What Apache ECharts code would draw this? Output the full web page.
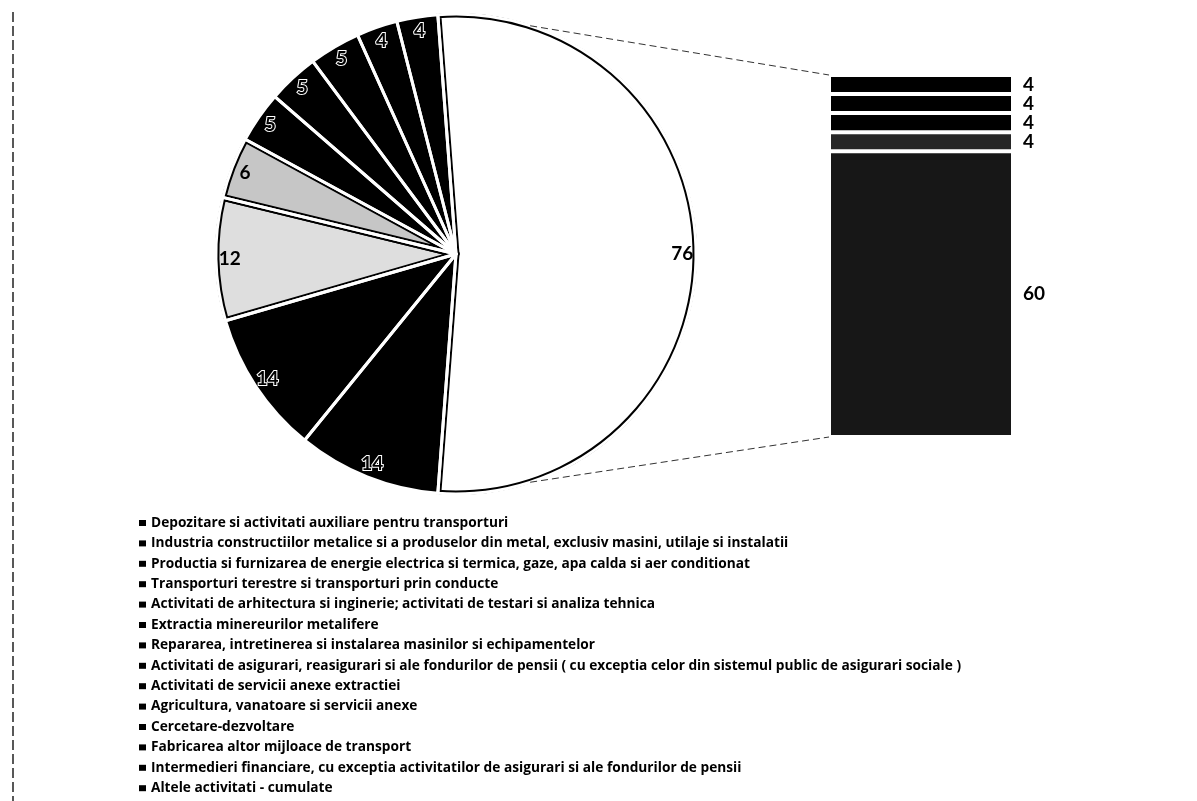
<!DOCTYPE html>
<html>
<head>
<meta charset="utf-8">
<script src="https://cdn.jsdelivr.net/npm/echarts@6/dist/echarts.min.js"></script>
<style>
  html, body { margin: 0; padding: 0; background: #fff; }
  #chart { width: 1197px; height: 801px; }
</style>
</head>
<body>
<div id="chart"></div>
<script>
// Activities shown as separate pie slices
const pieNames = [
  'Depozitare si activitati auxiliare pentru transporturi',
  'Industria constructiilor metalice si a produselor din metal, exclusiv masini, utilaje si instalatii',
  'Productia si furnizarea de energie electrica si termica, gaze, apa calda si aer conditionat',
  'Transporturi terestre si transporturi prin conducte',
  'Activitati de arhitectura si inginerie; activitati de testari si analiza tehnica',
  'Extractia minereurilor metalifere',
  'Repararea, intretinerea si instalarea masinilor si echipamentelor',
  'Activitati de asigurari, reasigurari si ale fondurilor de pensii ( cu exceptia celor din sistemul public de asigurari sociale )',
  'Activitati de servicii anexe extractiei'
];
const pieValues = [14, 14, 12, 6, 5, 5, 5, 4, 4];
const pieColors = ['#000000', '#000000', '#dedede', '#c6c6c6', '#000000', '#000000', '#000000', '#000000', '#000000'];

// Activities grouped into the "other" slice and broken out in the bar
const barNames = [
  'Agricultura, vanatoare si servicii anexe',
  'Cercetare-dezvoltare',
  'Fabricarea altor mijloace de transport',
  'Intermedieri financiare, cu exceptia activitatilor de asigurari si ale fondurilor de pensii',
  'Altele activitati - cumulate'
];
const barValues = [4, 4, 4, 4, 60];
const barColors = ['#000000', '#000000', '#000000', '#262626', '#171717'];

const otherSliceName = 'Total activitati grupate';

// ---- derived values ----
const otherTotal = barValues.reduce((a, b) => a + b, 0);
const pieTotal = otherTotal + pieValues.reduce((a, b) => a + b, 0);
const CX = 456, CY = 254, R = 240;
// the grouped slice is centred on the right-hand side
const startAngle = 180 * otherTotal / pieTotal;

const LABEL_FONT = 'Lato';
const LEGEND_FONT = 'Open Sans';

const sliceList = [{ name: otherSliceName, value: otherTotal, color: '#ffffff' }]
  .concat(pieNames.map((n, i) => ({ name: n, value: pieValues[i], color: pieColors[i] })));

const pieCommon = {
  type: 'pie',
  center: [CX, CY],
  startAngle: startAngle,
  clockwise: true,
  avoidLabelOverlap: false,
  silent: true,
  animation: false,
  labelLine: { show: false },
  emphasis: { disabled: true }
};

// base layer: fills plus dark outlines for the white / light slices
const baseData = sliceList.map(s => ({
  name: s.name,
  value: s.value,
  itemStyle: s.color === '#000000'
    ? { color: '#000', borderWidth: 0 }
    : { color: s.color, borderColor: '#000', borderWidth: 7 }
}));

// white separators between slices
const sepData = sliceList.map(s => ({
  name: s.name,
  value: s.value,
  itemStyle: { color: 'rgba(0,0,0,0)', borderColor: '#fff', borderWidth: 3 }
}));

// value labels placed near the outer edge
const labelData = sliceList.map(s => {
  const dark = s.color === '#000000';
  return {
    name: s.name,
    value: s.value,
    itemStyle: { color: 'rgba(0,0,0,0)', borderWidth: 0 },
    label: dark
      ? { color: '#000', textBorderColor: '#fff', textBorderWidth: 2 }
      : { color: '#000', textBorderWidth: 0 }
  };
});

const legendNames = pieNames.concat(barNames);

const chart = echarts.init(document.getElementById('chart'), null, { renderer: 'canvas' });

const a = 72 * Math.PI / 180;
const BAR_LEFT = 829, BAR_TOP = 75, BAR_W = 184, BAR_H = 362;

const option = {
  backgroundColor: '#ffffff',
  animation: false,
  legend: {
    orient: 'vertical',
    left: 139,
    top: 516,
    height: 285,
    padding: 0,
    icon: 'rect',
    itemWidth: 7,
    itemHeight: 6,
    itemGap: 6.4,
    selectedMode: false,
    itemStyle: { borderWidth: 0, color: '#000' },
    data: legendNames.map(n => ({ name: n, itemStyle: { color: '#000', borderWidth: 0 } })),
    textStyle: { fontFamily: LEGEND_FONT, fontWeight: 'bold', fontSize: 13.7, color: '#000', lineHeight: 14 }
  },
  grid: { left: BAR_LEFT, top: BAR_TOP, width: BAR_W, height: BAR_H, containLabel: false },
  xAxis: { type: 'category', data: [''], show: false },
  yAxis: { type: 'value', min: 0, max: otherTotal, inverse: true, show: false },
  series: [
    Object.assign({}, pieCommon, { radius: [0, R], z: 1, label: { show: false }, data: baseData }),
    Object.assign({}, pieCommon, { radius: [0, R], z: 2, label: { show: false }, data: sepData }),
    // trims the outer half of the outlines
    Object.assign({}, pieCommon, {
      radius: [R + 1, R + 8], z: 3, label: { show: false },
      data: [{ name: 'rim', value: 1, itemStyle: { color: '#fff', borderWidth: 0 } }]
    }),
    Object.assign({}, pieCommon, {
      radius: [R * 0.86, R], z: 4,
      label: {
        show: true, position: 'inside', formatter: '{c}',
        fontFamily: LABEL_FONT, fontWeight: 'bold', fontSize: 19
      },
      data: labelData
    })
  ].concat(barNames.map((n, i) => ({
    type: 'bar',
    name: n,
    stack: 'other',
    barWidth: '100%',
    silent: true,
    data: [barValues[i]],
    itemStyle: { color: barColors[i], borderColor: '#fff', borderWidth: 2 },
    label: {
      show: true, position: 'right', distance: 10, formatter: '{c}',
      fontFamily: LABEL_FONT, fontWeight: 'bold', fontSize: 19, color: '#000'
    }
  }))),
  graphic: [
    {
      type: 'line', silent: true, z: 10,
      shape: { x1: CX + R * Math.cos(a), y1: CY - R * Math.sin(a), x2: BAR_LEFT, y2: BAR_TOP },
      style: { stroke: '#333', lineWidth: 1, lineDash: [7, 4] }
    },
    {
      type: 'line', silent: true, z: 10,
      shape: { x1: CX + R * Math.cos(a), y1: CY + R * Math.sin(a), x2: BAR_LEFT, y2: BAR_TOP + BAR_H },
      style: { stroke: '#333', lineWidth: 1, lineDash: [7, 4] }
    },
    {
      type: 'line', silent: true, z: 10,
      shape: { x1: 13, y1: 12, x2: 13, y2: 801 },
      style: { stroke: '#222', lineWidth: 1.5, lineDash: [10, 4] }
    }
  ]
};

chart.setOption(option);
</script>
</body>
</html>
